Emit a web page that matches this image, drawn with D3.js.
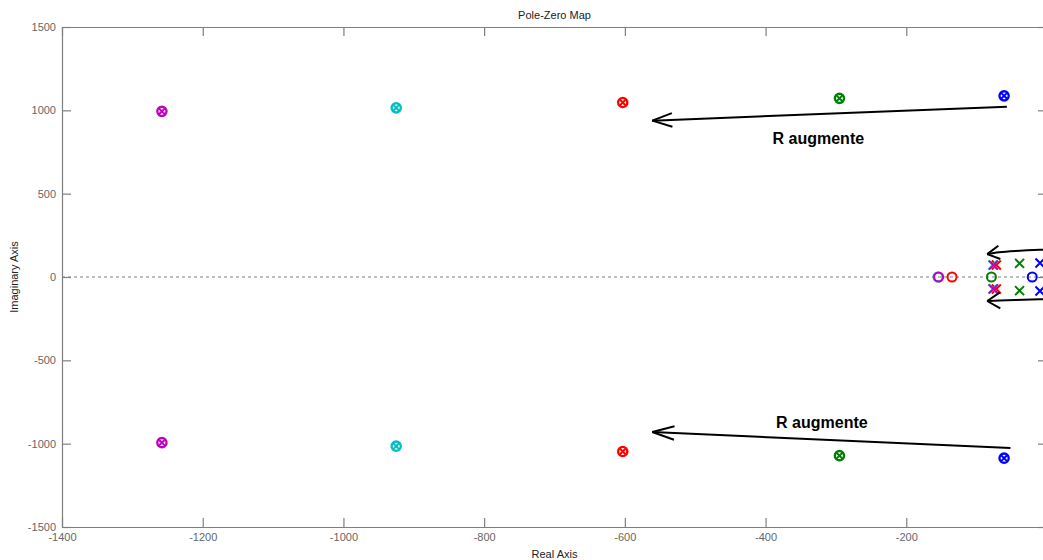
<!DOCTYPE html>
<html>
<head>
<meta charset="utf-8">
<script src="https://cdn.jsdelivr.net/npm/d3@7"></script>
<style>
  body { margin: 0; background: #fff; }
  svg { display: block; font-family: Arial, "Liberation Sans", sans-serif; }
</style>
</head>
<body>
<svg id="chart" width="1043" height="560"></svg>
<script>
// Pole-zero locations of the closed loop for five values of R (blue -> magenta as R grows)
const seriesIds   = ['R1', 'R2', 'R3', 'R4', 'R5'];
// high-frequency pair: a pole and a zero sitting on top of each other (x inside o)
const highPoleRe  = [-61, -295, -603, -925, -1258];
const highPoleIm  = [1087, 1072, 1047, 1015, 994];
const highZeroRe  = [-61, -295, -603, -925, -1258];
const highZeroIm  = [1087, 1072, 1047, 1015, 994];
// low-frequency complex pole pair
const lowPoleRe   = [-10, -39, -72, -77, -76];
const lowPoleIm   = [84, 82, 72, 72, 71];
// real zero
const realZeroRe  = [-21, -79, -135, -155, -154];

// tick values; the 0 tick sits on the right border, just past the visible area
const xTicks = [-1400, -1200, -1000, -800, -600, -400, -200, 0];
const xTickLabels = [-1400, -1200, -1000, -800, -600, -400, -200];
const yTicks = [-1500, -1000, -500, 0, 500, 1000, 1500];

const titleText = 'Pole-Zero Map';
const xLabel = 'Real Axis';
const yLabel = 'Imaginary Axis';
const noteText = 'R augmente';

// arrows showing how the roots move as R increases (data units)
const bigArrowTop    = [[-57, 1022], [-561, 938]];
const bigArrowBottom = [[-52, -1026], [-561, -930]];
const noteTop    = [-325, 834];
const noteBottom = [-320, -870];
const smallArrowTop    = [[25, 166], [-10, 163], [-45, 156], [-68, 148], [-85, 137]];
const smallArrowBottom = [[25, -131], [-10, -134], [-45, -138], [-68, -141], [-85, -144]];

const seriesColors = ['#0000ff', '#008000', '#ff0000', '#00bfbf', '#bf00bf'];

const svg = d3.select('#chart');
const x = d3.scaleLinear().domain([-1400, 0]).range([62, 1047]);
const y = d3.scaleLinear().domain([-1500, 1500]).range([527, 27]);

const axisColor = '#7f7f7f';
const tickTextColor = '#666';
const plainFormat = d => (d < 0 ? '-' : '') + Math.abs(d);

// zero line
svg.append('line')
  .attr('x1', x(-1400)).attr('x2', x(0))
  .attr('y1', y(0)).attr('y2', y(0))
  .attr('stroke', '#808080').attr('stroke-width', 1)
  .attr('stroke-dasharray', '3,3');

function styleAxis(g) {
  g.selectAll('path.domain').attr('stroke', axisColor).attr('stroke-width', 1.2);
  g.selectAll('.tick line').attr('stroke', axisColor).attr('stroke-width', 1.2);
  g.selectAll('.tick text').attr('fill', tickTextColor).style('font-size', '11px')
    .style('font-family', 'Arial, "Liberation Sans", sans-serif');
}

// bottom axis: tick marks, then labels
svg.append('g').attr('transform', `translate(0,${y(-1500)})`)
  .call(d3.axisBottom(x).tickValues(xTicks).tickSizeInner(-9).tickSizeOuter(0).tickFormat(''))
  .call(styleAxis);
svg.append('g').attr('transform', `translate(0,${y(-1500)})`)
  .call(d3.axisBottom(x).tickValues(xTickLabels).tickSize(0).tickPadding(6).tickFormat(plainFormat))
  .call(styleAxis)
  .call(g => g.select('path.domain').remove());
// top axis
svg.append('g').attr('transform', `translate(0,${y(1500)})`)
  .call(d3.axisTop(x).tickValues(xTicks).tickSizeInner(-9).tickSizeOuter(0).tickFormat(''))
  .call(styleAxis);
// left axis
svg.append('g').attr('transform', `translate(${x(-1400)},0)`)
  .call(d3.axisLeft(y).tickValues(yTicks).tickSizeInner(-9).tickSizeOuter(0).tickPadding(6).tickFormat(plainFormat))
  .call(styleAxis);
// right axis
svg.append('g').attr('transform', `translate(${x(0)},0)`)
  .call(d3.axisRight(y).tickValues(yTicks).tickSizeInner(-9).tickSizeOuter(0).tickFormat(''))
  .call(styleAxis);

// title and axis labels
svg.append('text').attr('x', (x(-1400) + x(0)) / 2).attr('y', 19)
  .attr('text-anchor', 'middle').attr('fill', '#222').style('font-size', '11px').text(titleText);
svg.append('text').attr('x', (x(-1400) + x(0)) / 2).attr('y', 558)
  .attr('text-anchor', 'middle').attr('fill', '#222').style('font-size', '11px').text(xLabel);
svg.append('text').attr('transform', `translate(18,${y(0)}) rotate(-90)`)
  .attr('text-anchor', 'middle').attr('fill', '#222').style('font-size', '11px').text(yLabel);

// markers
const plot = svg.append('g');
const crossPath = s => `M${-s},${-s}L${s},${s}M${-s},${s}L${s},${-s}`;

function drawCircle(re, im, color, r, w) {
  plot.append('circle').attr('cx', x(re)).attr('cy', y(im)).attr('r', r)
    .attr('fill', 'none').attr('stroke', color).attr('stroke-width', w);
}
function drawCross(re, im, color, s, w) {
  plot.append('path').attr('d', crossPath(s))
    .attr('transform', `translate(${x(re)},${y(im)})`)
    .attr('fill', 'none').attr('stroke', color).attr('stroke-width', w);
}

seriesIds.forEach((id, i) => {
  const c = seriesColors[i];
  // zeros
  drawCircle(highZeroRe[i], highZeroIm[i], c, 4.6, 2.4);
  drawCircle(highZeroRe[i], -highZeroIm[i], c, 4.6, 2.4);
  drawCircle(realZeroRe[i], 0, c, 4.5, 2);
  // poles
  drawCross(highPoleRe[i], highPoleIm[i], c, 3.2, 2);
  drawCross(highPoleRe[i], -highPoleIm[i], c, 3.2, 2);
  drawCross(lowPoleRe[i], lowPoleIm[i], c, 4.5, 2);
  drawCross(lowPoleRe[i], -lowPoleIm[i], c, 4.5, 2);
});

// annotation arrows
const ann = svg.append('g').attr('fill', 'none').attr('stroke', '#000').attr('stroke-width', 2);
const line = d3.line().x(d => x(d[0])).y(d => y(d[1])).curve(d3.curveCatmullRom);

function arrow(points, headLen, headAng) {
  ann.append('path').attr('d', line(points));
  const tip = points[points.length - 1], prev = points[points.length - 2];
  const tx = x(tip[0]), ty = y(tip[1]);
  const a = Math.atan2(y(prev[1]) - ty, x(prev[0]) - tx);
  [a - headAng, a + headAng].forEach(b => {
    ann.append('line').attr('x1', tx).attr('y1', ty)
      .attr('x2', tx + headLen * Math.cos(b)).attr('y2', ty + headLen * Math.sin(b));
  });
}
arrow(bigArrowTop, 21, 0.33);
arrow(bigArrowBottom, 23, 0.3);
arrow(smallArrowTop, 14, 0.5);
arrow(smallArrowBottom, 15, 0.55);

[noteTop, noteBottom].forEach(p => {
  svg.append('text').attr('x', x(p[0])).attr('y', y(p[1]))
    .attr('dy', '0.35em').attr('text-anchor', 'middle')
    .attr('fill', '#000').style('font-size', '16px').style('font-weight', 'bold')
    .text(noteText);
});
</script>
</body>
</html>
